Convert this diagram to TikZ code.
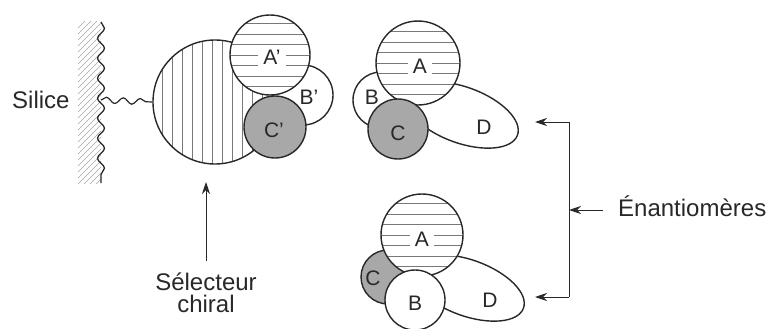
\documentclass[tikz,border=0pt]{standalone}
\usepackage{fontspec}
\setmainfont{Liberation Sans}
\usetikzlibrary{arrows.meta,decorations.pathmorphing,shapes.geometric}
\definecolor{ink}{RGB}{40,40,40}
\definecolor{shade}{RGB}{168,168,168}
\definecolor{hatchc}{RGB}{120,120,120}
\begin{document}
\begin{tikzpicture}[x=1pt,y=-1pt,
  outl/.style={draw=ink, line width=1.4pt},
  hatch/.style={draw=hatchc, line width=0.6pt},
  ball/.style={circle, outl, inner sep=0pt},
  lbl/.style={font=\fontsize{21}{23}\selectfont, text=ink, inner sep=1pt},
  hlbl/.style={lbl, fill=white, inner xsep=5pt, inner ysep=2pt},
  txt/.style={font=\fontsize{24}{22}\selectfont, text=ink},
  conn/.style={line width=0.9pt, draw=ink},
  arr/.style={conn, -{Stealth[length=12pt,width=8pt]}},
  lobe/.style={ellipse, outl, fill=white, minimum width=118pt, minimum height=56pt, inner sep=0pt, rotate=-20}
]
\useasboundingbox (0,0) rectangle (772,329);

% ---------- wall (silica) ----------
\begin{scope}
  \clip (78,22) rectangle (101,183);
  \foreach \i in {0,...,30} \draw[draw=black!35, line width=0.6pt] (76,30+\i*6) -- (103,3+\i*6);
\end{scope}
\draw[outl, line width=1.3pt, decorate, decoration={snake, amplitude=3.5pt, segment length=20pt}] (101,22) -- (101,183);
\coordinate (wall) at (101,100);
\node[txt, anchor=base west, inner sep=0pt] (sil) at (12,109) {Silice};

% ---------- chiral selector ----------
\begin{scope}
  \clip (215,102) circle (62pt);
  \fill[white] (215,102) circle (62pt);
  \foreach \x in {162,172,...,272} \draw[hatch] (\x,35) -- (\x,170);
\end{scope}
\node[ball, minimum size=124pt] (sel) at (215,102) {};
\draw[conn, line width=1.2pt, decorate, decoration={snake, amplitude=3pt, segment length=17pt}] (wall) -- (sel.west);

\node[ball, fill=white, minimum size=60pt] (Bp) at (303,95) {};
\node[lbl] (Bpl) at (309,97) {B'};
\fill[white] (270,55) circle (40pt);
\begin{scope}
  \clip (270,55) circle (40pt);
  \foreach \k in {-4,...,4} \draw[hatch] (225,55+\k*10.5) -- (315,55+\k*10.5);
\end{scope}
\node[ball, minimum size=80pt] (Ap) at (270,55) {};
\node[hlbl] (Apl) at (272,57) {A'};
\node[ball, fill=shade, minimum size=62pt] (Cp) at (275,127) {};
\node[lbl] (Cpl) at (274,130) {C'};

% arrow to selector
\coordinate (seltip) at (206,182);
\node[txt, align=center, anchor=north, inner sep=0pt] (selt) at (206,273) {Sélecteur\\chiral};
\draw[arr, shorten <=12pt] (selt.north) -- (seltip);

% ---------- enantiomer 1 ----------
\node[ball, fill=white, minimum size=56pt] (B1) at (381,100) {};
\node[lbl] (B1l) at (372,97) {B};
\node[lobe] (D1) at (462,115) {};
\node[lbl] (D1l) at (484,127) {D};
\fill[white] (418,63) circle (42pt);
\begin{scope}
  \clip (418,63) circle (42pt);
  \foreach \k in {-4,...,4} \draw[hatch] (370,63+\k*10.5) -- (465,63+\k*10.5);
\end{scope}
\node[ball, minimum size=84pt] (A1) at (418,63) {};
\node[hlbl] (A1l) at (420,66) {A};
\node[ball, fill=shade, minimum size=60pt] (C1) at (398,129) {};
\node[lbl] (C1l) at (398,133) {C};

% ---------- enantiomer 2 ----------
\node[ball, fill=shade, minimum size=54pt] (C2) at (388,277) {};
\node[lbl] (C2l) at (373,278) {C};
\node[lobe] (D2) at (468,288) {};
\node[lbl] (D2l) at (490,300) {D};
\fill[white] (422,235) circle (41pt);
\begin{scope}
  \clip (422,235) circle (41pt);
  \foreach \k in {-4,...,4} \draw[hatch] (375,235+\k*10.5) -- (470,235+\k*10.5);
\end{scope}
\node[ball, minimum size=82pt] (A2) at (422,235) {};
\node[hlbl] (A2l) at (422,239) {A};
\node[ball, fill=white, minimum size=60pt] (B2) at (415,300) {};
\node[lbl] (B2l) at (415,303) {B};

% ---------- enantiomers bracket ----------
\coordinate (vtop) at (569,122);
\coordinate (vbot) at (569,297);
\coordinate (vmid) at (569,210);
\coordinate (tipT) at (535,122);
\coordinate (tipB) at (535,297);
\draw[conn] (vtop) -- (vbot);
\draw[arr] (vtop) -- (tipT);
\draw[arr] (vbot) -- (tipB);
\node[txt, anchor=base west, inner sep=0pt] (en) at (618,216) {Énantiomères};
\draw[arr, shorten <=15pt] (en.west |- vmid) -- (vmid);
\end{tikzpicture}
\end{document}
